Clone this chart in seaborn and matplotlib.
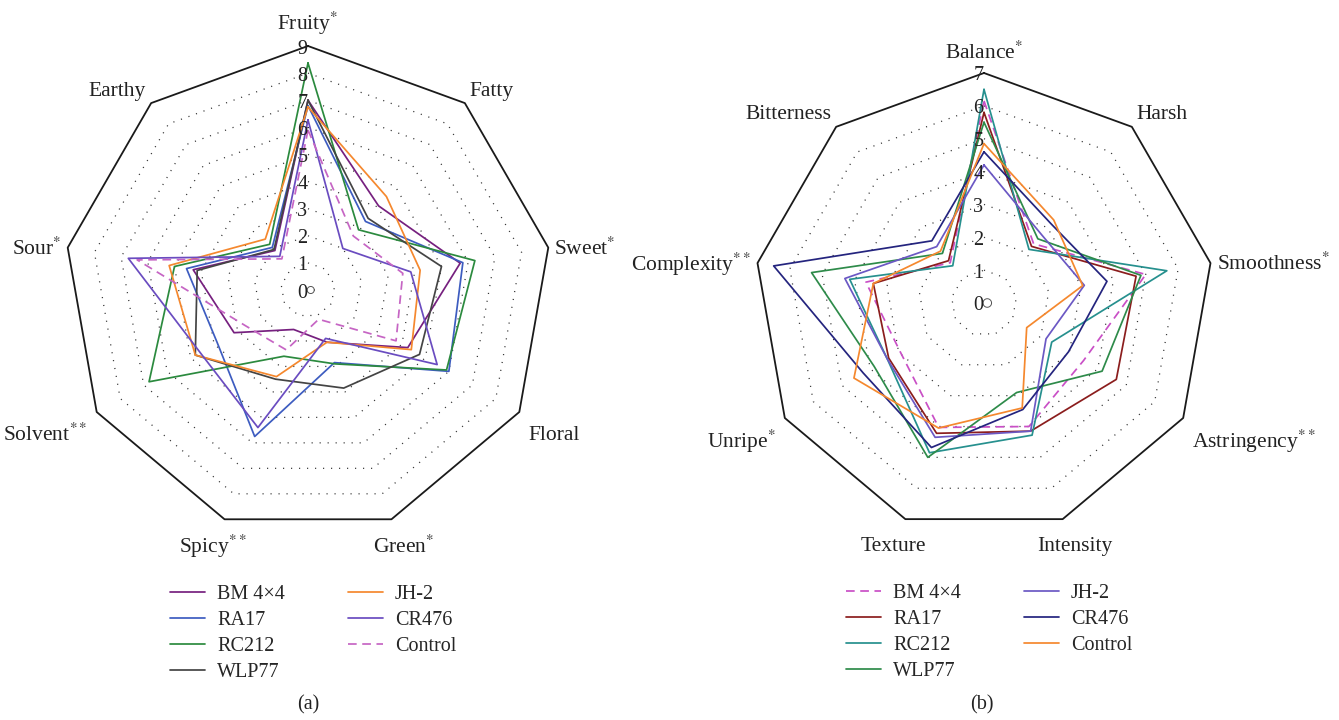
import numpy as np
import pandas as pd
import matplotlib
matplotlib.use("Agg")
import matplotlib.pyplot as plt
from matplotlib.lines import Line2D
import seaborn as sns

# ---------------- panel (a): aroma attributes (0-9 scale) ----------------
aroma_attrs = ["Fruity", "Fatty", "Sweet", "Floral", "Green", "Spicy", "Solvent", "Sour", "Earthy"]
aroma_marks = ["*", "", "*", "", "*", "**", "**", "*", ""]
aroma_ticks = [0, 1, 2, 3, 4, 5, 6, 7, 8, 9]

aroma_bm4x4 = [7.0, 4.05, 5.7, 4.25, 2.05, 1.55, 3.15, 4.3, 1.9]
aroma_ra17 = [6.8, 3.3, 5.8, 6.0, 2.85, 5.75, 3.87, 4.55, 2.05]
aroma_rc212 = [8.37, 2.9, 6.25, 5.9, 2.9, 2.6, 6.77, 5.0, 2.2]
aroma_wlp77 = [7.0, 3.45, 5.0, 4.75, 3.85, 3.5, 4.8, 4.15, 1.95]
aroma_jh2 = [6.75, 4.5, 4.2, 4.4, 2.05, 3.4, 4.8, 5.2, 2.45]
aroma_cr476 = [6.27, 2.0, 3.85, 5.5, 1.9, 5.4, 4.6, 6.73, 1.62]
aroma_control = [5.9, 2.6, 3.55, 3.75, 1.15, 2.35, 2.65, 6.4, 1.5]

# ---------------- panel (b): taste / mouthfeel attributes (0-7 scale) ----------------
taste_attrs = ["Balance", "Harsh", "Smoothness", "Astringency", "Intensity",
               "Texture", "Unripe", "Complexity", "Bitterness"]
taste_marks = ["*", "", "*", "**", "", "", "*", "**", ""]
taste_ticks = [0, 1, 2, 3, 4, 5, 6, 7]

taste_bm4x4 = [6.15, 2.35, 5.0, 3.5, 4.0, 4.03, 2.95, 3.65, 1.6]
taste_ra17 = [5.8, 2.25, 4.7, 4.65, 4.15, 4.22, 3.35, 3.42, 1.68]
taste_rc212 = [6.5, 2.13, 5.65, 2.38, 4.28, 4.85, 3.4, 4.15, 1.48]
taste_wlp77 = [5.5, 2.55, 4.85, 4.15, 2.9, 5.0, 3.86, 5.33, 1.97]
taste_jh2 = [4.2, 2.72, 3.1, 2.18, 4.15, 4.35, 3.4, 4.3, 2.24]
taste_cr476 = [4.6, 3.16, 3.8, 2.97, 3.45, 4.68, 4.25, 6.5, 2.47]
taste_control = [4.85, 3.3, 3.05, 1.5, 3.4, 4.05, 4.57, 3.42, 2.06]

strains = ["BM 4\u00d74", "RA17", "RC212", "WLP77", "JH-2", "CR476", "Control"]

aroma_series = [aroma_bm4x4, aroma_ra17, aroma_rc212, aroma_wlp77,
                aroma_jh2, aroma_cr476, aroma_control]
aroma_colors = ["#76207f", "#3d5cc0", "#2b8a3e", "#444444",
                "#f5882e", "#6a4cc0", "#c665c4"]
aroma_dashed = [False, False, False, False, False, False, True]

taste_series = [taste_bm4x4, taste_ra17, taste_rc212, taste_wlp77,
                taste_jh2, taste_cr476, taste_control]
taste_colors = ["#c94fc6", "#8b1d1d", "#26908e", "#2e8b4a",
                "#6b58c4", "#24247e", "#f5882e"]
taste_dashed = [True, False, False, False, False, False, False]

# ---------------- styling ----------------
sns.set_theme(style="white")
plt.rcParams["font.family"] = ["Liberation Serif", "DejaVu Serif"]
plt.rcParams["mathtext.fontset"] = "stix"

W, H, DPI = 1339, 720, 100
fig = plt.figure(figsize=(W / DPI, H / DPI), dpi=DPI)
fig.patch.set_facecolor("white")

LABEL_FS = 15.5
TICK_FS = 14.5
LEG_FS = 14.5
LW = 1.25
DASH = (0, (5, 3.2))
TEXT_C = "#222222"


def radar_axes(box, center, px_per_unit):
    """Cartesian axes whose data unit is one rating step, laid out in pixels."""
    left, right, top, bottom = box
    cx, cy = center
    ax = fig.add_axes([left / W, 1 - bottom / H, (right - left) / W, (bottom - top) / H])
    ax.set_xlim((left - cx) / px_per_unit, (right - cx) / px_per_unit)
    ax.set_ylim((cy - bottom) / px_per_unit, (cy - top) / px_per_unit)
    ax.axis("off")
    return ax


def label_placement(c, s):
    """Pixel offset from a frame vertex and text alignment for an attribute name."""
    if s > 0.9:                      # top spoke
        return 0, 9, "center", "bottom"
    if s < -0.9:                     # bottom spokes
        return 12 * np.sign(c), -27, "center", "center"
    if s > 0.5:                      # upper diagonals
        return 5 * np.sign(c), 12, ("left" if c > 0 else "right"), "center"
    if s < -0.4:                     # lower diagonals
        return 9 * np.sign(c), -23, ("left" if c > 0 else "right"), "center"
    return 6 * np.sign(c), -1, ("left" if c > 0 else "right"), "center"


def draw_radar(ax, attrs, marks, ticks, series, colors, dashed, ppu):
    n = len(attrs)
    ang = np.deg2rad(90 - 360.0 / n * np.arange(n))
    rmax = ticks[-1]
    closed = np.append(ang, ang[0])

    # dotted grid rings and solid outer frame
    for t in ticks[1:-1]:
        ax.plot(t * np.cos(closed), t * np.sin(closed), color="#333333",
                lw=0.9, linestyle=(0, (0.9, 5.5)), zorder=1)
    ax.plot(rmax * np.cos(closed), rmax * np.sin(closed), color="#1a1a1a", lw=1.3, zorder=2)
    circ = np.linspace(0, 2 * np.pi, 60)
    ax.plot(0.13 * np.cos(circ) + 0.1, 0.13 * np.sin(circ), color="#555555", lw=0.7, zorder=2)

    # the rating series
    for vals, col, dsh in zip(series, colors, dashed):
        v = np.append(np.asarray(vals, float), vals[0])
        df = pd.DataFrame({"x": v * np.cos(closed), "y": v * np.sin(closed)})
        kw = dict(linestyle=DASH) if dsh else {}
        sns.lineplot(data=df, x="x", y="y", sort=False, estimator=None, color=col,
                     lw=LW, ax=ax, zorder=3, **kw)

    # scale numbers on the vertical spoke
    for t in ticks:
        ax.text(-0.02, t - 3.0 / ppu, str(t), ha="right", va="center",
                fontsize=TICK_FS, color=TEXT_C, zorder=4)

    # attribute names around the frame
    for a, m, th in zip(attrs, marks, ang):
        c, s = np.cos(th), np.sin(th)
        dx, dy, ha, va = label_placement(c, s)
        x = rmax * c + dx / ppu
        y = rmax * s + dy / ppu
        txt = a + (r"$^{" + m + "}$" if m else "")
        ax.text(x, y, txt, ha=ha, va=va, fontsize=LABEL_FS, color=TEXT_C)
    ax.set_xlabel("")
    ax.set_ylabel("")


ax_a = radar_axes((0, 665, 0, 580), (308, 290), 244 / 9)
draw_radar(ax_a, aroma_attrs, aroma_marks, aroma_ticks, aroma_series,
           aroma_colors, aroma_dashed, 244 / 9)

ax_b = radar_axes((665, 1339, 0, 580), (984, 303), 230 / 7)
draw_radar(ax_b, taste_attrs, taste_marks, taste_ticks, taste_series,
           taste_colors, taste_dashed, 230 / 7)


def legend_for(colors, dashed, anchor_px):
    handles = [Line2D([0], [0], color=c, lw=LW, linestyle=DASH if d else "-")
               for c, d in zip(colors, dashed)]
    fig.legend(handles, strains, loc="upper left",
               bbox_to_anchor=(anchor_px[0] / W, 1 - anchor_px[1] / H),
               ncol=2, frameon=False, fontsize=LEG_FS, handlelength=1.75,
               handletextpad=0.6, columnspacing=3.1, labelspacing=0.34,
               borderpad=0, borderaxespad=0)


legend_for(aroma_colors, aroma_dashed, (170, 585))
legend_for(taste_colors, taste_dashed, (846, 584))

fig.text(308 / W, 1 - 705 / H, "(a)", ha="center", va="center", fontsize=LEG_FS, color=TEXT_C)
fig.text(982 / W, 1 - 705 / H, "(b)", ha="center", va="center", fontsize=LEG_FS, color=TEXT_C)

fig.savefig("out.png", dpi=DPI, facecolor="white")
